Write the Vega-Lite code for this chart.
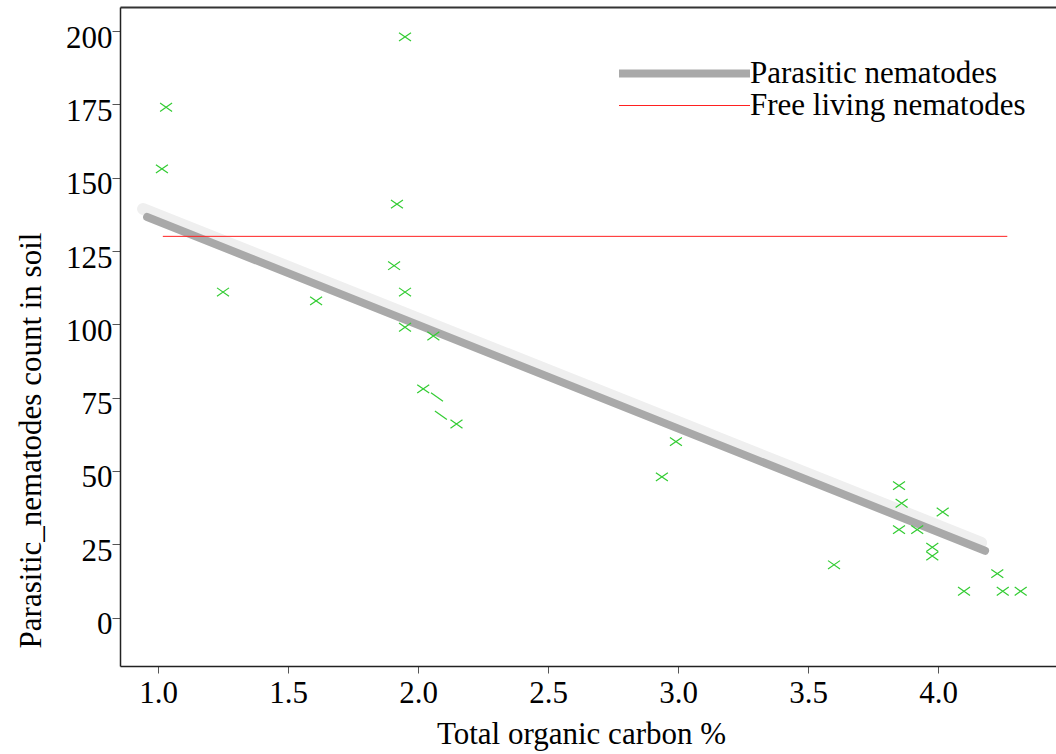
{
  "$schema": "https://vega.github.io/schema/vega-lite/v6.json",
  "width": 936,
  "height": 659,
  "autosize": {"type": "none"},
  "padding": {"left": 120, "top": 7, "right": 0, "bottom": 88},
  "background": "white",
  "config": {
    "view": {"stroke": null},
    "axis": {"grid": false, "labelFont": "Liberation Serif", "titleFont": "Liberation Serif", "labelFontSize": 31, "titleFontSize": 31, "labelColor": "#000", "titleColor": "#000", "titleFontWeight": "normal", "domainColor": "#222", "domainWidth": 1.5, "tickColor": "#555", "tickWidth": 1},
    "legend": {"labelFont": "Liberation Serif", "labelFontSize": 31, "labelColor": "#000"}
  },
  "datasets": {
    "points": [
      {"x": 1.031, "y": 174}, {"x": 1.015, "y": 153}, {"x": 1.95, "y": 198},
      {"x": 1.25, "y": 111}, {"x": 1.608, "y": 108}, {"x": 1.919, "y": 141},
      {"x": 1.908, "y": 120}, {"x": 1.95, "y": 111}, {"x": 1.95, "y": 99},
      {"x": 2.059, "y": 96}, {"x": 2.02, "y": 78}, {"x": 2.148, "y": 66},
      {"x": 2.938, "y": 48}, {"x": 2.992, "y": 60}, {"x": 3.6, "y": 18},
      {"x": 3.85, "y": 45}, {"x": 3.86, "y": 39}, {"x": 4.018, "y": 36},
      {"x": 3.85, "y": 30}, {"x": 3.92, "y": 30}, {"x": 3.978, "y": 24},
      {"x": 3.978, "y": 21}, {"x": 4.228, "y": 15}, {"x": 4.1, "y": 9},
      {"x": 4.249, "y": 9}, {"x": 4.318, "y": 9}
    ],
    "partial": [
      {"x": 2.073, "y": 75.2}, {"x": 2.088, "y": 69}
    ],
    "lines": [
      {"series": "Parasitic nematodes", "x": 0.958, "y": 136.6},
      {"series": "Parasitic nematodes", "x": 4.181, "y": 22.8},
      {"series": "Free living nematodes", "x": 1.02, "y": 130},
      {"series": "Free living nematodes", "x": 4.265, "y": 130}
    ]
  },
  "layer": [
    {
      "data": {"name": "lines"},
      "transform": [{"filter": "datum.series === 'Parasitic nematodes'"}],
      "mark": {"type": "line", "color": "#efefef", "strokeWidth": 12, "strokeCap": "round", "xOffset": -4, "yOffset": -8},
      "encoding": {
        "x": {"field": "x", "type": "quantitative", "scale": {"domain": [0.8538, 4.4538], "nice": false, "zero": false},
              "axis": {"orient": "top", "labels": false, "ticks": false, "domain": true, "title": null, "domainColor": "#333", "domainWidth": 2}},
        "y": {"field": "y", "type": "quantitative", "scale": {"domain": [-16.5, 208.2], "nice": false, "zero": false},
              "axis": {"title": "Parasitic_nematodes count in soil", "values": [0, 25, 50, 75, 100, 125, 150, 175, 200], "tickSize": 8, "labelPadding": 0, "labelBaseline": "alphabetic", "labelOffset": 16, "titleX": -80, "titleY": 433, "titleAngle": -90, "titleAlign": "center", "titleBaseline": "alphabetic", "titleAnchor": "start"}}
      }
    },
    {
      "data": {"name": "lines"},
      "mark": {"type": "line", "strokeCap": "round"},
      "encoding": {
        "x": {"field": "x", "type": "quantitative", "axis": null},
        "y": {"field": "y", "type": "quantitative",
              "axis": {"title": "Parasitic_nematodes count in soil", "values": [0, 25, 50, 75, 100, 125, 150, 175, 200], "tickSize": 8, "labelPadding": 0, "labelBaseline": "alphabetic", "labelOffset": 16, "titleX": -80, "titleY": 433, "titleAngle": -90, "titleAlign": "center", "titleBaseline": "alphabetic", "titleAnchor": "start"}},
        "detail": {"field": "series"},
        "color": {"field": "series", "type": "nominal",
                  "scale": {"domain": ["Parasitic nematodes", "Free living nematodes"], "range": ["#a9a9a9", "#ff2020"]},
                  "legend": {"title": null, "orient": "none", "legendX": 495, "legendY": 51, "symbolType": "stroke", "symbolSize": 17161, "clipHeight": 31, "labelOffset": -4, "rowPadding": 0, "padding": 0, "labelLimit": 0, "labelBaseline": "middle",
                             "encode": {"symbols": {"update": {"stroke": {"scale": "color", "field": "value"}, "strokeOpacity": {"value": 1}}}}}},
        "strokeWidth": {"field": "series", "type": "nominal",
                  "scale": {"domain": ["Parasitic nematodes", "Free living nematodes"], "range": [8, 1]},
                  "legend": {"title": null, "orient": "none", "legendX": 495, "legendY": 51, "symbolType": "stroke", "symbolSize": 17161, "clipHeight": 31, "labelOffset": -4, "rowPadding": 0, "padding": 0, "labelLimit": 0, "labelBaseline": "middle",
                             "encode": {"symbols": {"update": {"stroke": {"scale": "color", "field": "value"}, "strokeOpacity": {"value": 1}}}}}}
      }
    },
    {
      "data": {"name": "points"},
      "mark": {"type": "point", "shape": "M-1,-0.7L1,0.7M-1,0.7L1,-0.7", "filled": false, "color": "#33cc33", "strokeWidth": 1.2, "size": 144, "opacity": 1},
      "encoding": {
        "x": {"field": "x", "type": "quantitative",
              "axis": {"orient": "bottom", "title": "Total organic carbon %", "values": [1, 1.5, 2, 2.5, 3, 3.5, 4], "format": ".1f", "tickSize": 7, "labelPadding": 29, "labelBaseline": "alphabetic", "titleX": 461, "titleY": 77, "titleBaseline": "alphabetic", "titleAnchor": "start", "titleAlign": "center"}},
        "y": {"field": "y", "type": "quantitative",
              "axis": {"title": "Parasitic_nematodes count in soil", "values": [0, 25, 50, 75, 100, 125, 150, 175, 200], "tickSize": 8, "labelPadding": 0, "labelBaseline": "alphabetic", "labelOffset": 16, "titleX": -80, "titleY": 433, "titleAngle": -90, "titleAlign": "center", "titleBaseline": "alphabetic", "titleAnchor": "start"}}
      }
    },
    {
      "data": {"name": "partial"},
      "mark": {"type": "point", "shape": "M-1,-0.7L1,0.7", "filled": false, "color": "#33cc33", "strokeWidth": 1.2, "size": 144, "opacity": 1},
      "encoding": {
        "x": {"field": "x", "type": "quantitative", "axis": null},
        "y": {"field": "y", "type": "quantitative",
              "axis": {"title": "Parasitic_nematodes count in soil", "values": [0, 25, 50, 75, 100, 125, 150, 175, 200], "tickSize": 8, "labelPadding": 0, "labelBaseline": "alphabetic", "labelOffset": 16, "titleX": -80, "titleY": 433, "titleAngle": -90, "titleAlign": "center", "titleBaseline": "alphabetic", "titleAnchor": "start"}}
      }
    }
  ],
  "resolve": {"axis": {"x": "independent"}}
}
